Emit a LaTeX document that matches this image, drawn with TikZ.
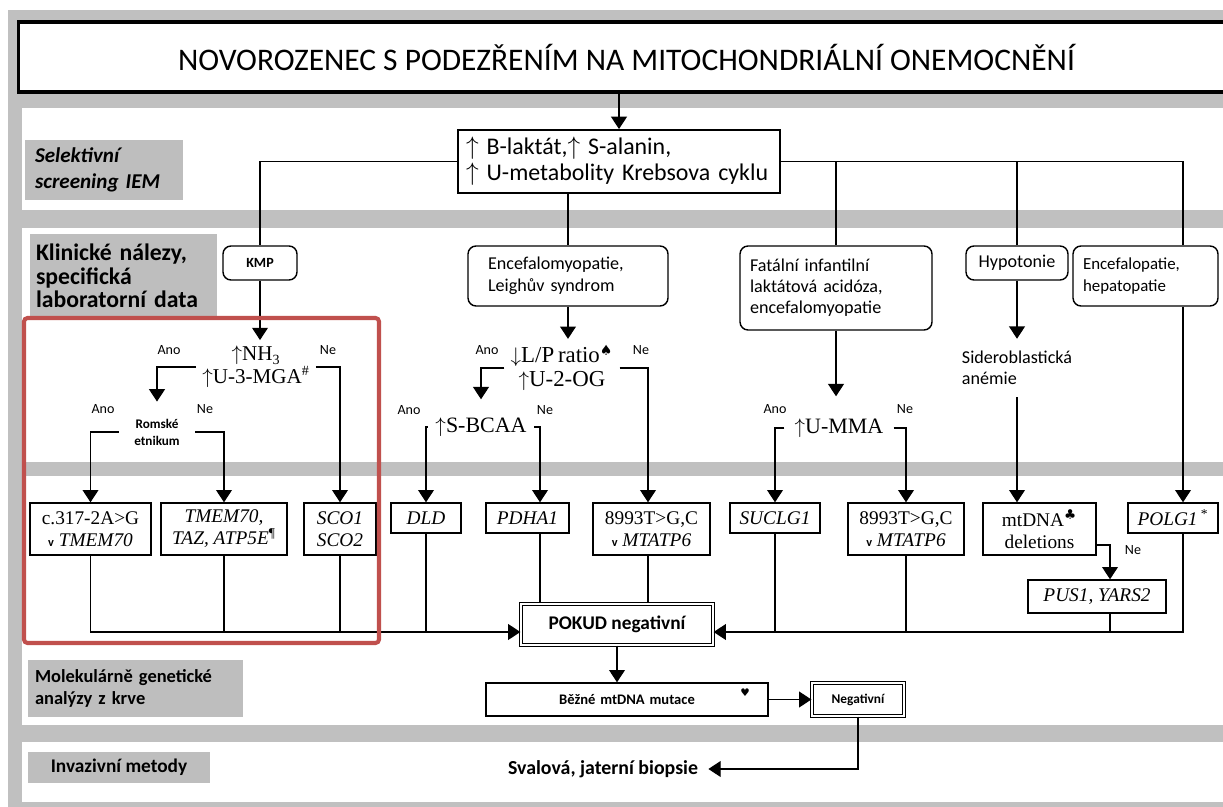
\documentclass[tikz,border=0pt]{standalone}
\usepackage{fontspec}
\setmainfont{Carlito}
\newfontfamily\genefont{Liberation Serif}
\newfontfamily\symfont{DejaVu Sans}
\usetikzlibrary{arrows.meta}

\begin{document}
\begin{tikzpicture}[x=0.02cm, y=-0.02cm,
    conn/.style={line width=0.7pt},
    arr/.style={conn, -{Triangle[width=9pt, length=7pt]}},
    rowlabel/.style={fill=labelGrey, font=\bfseries, align=left, inner xsep=0.2cm},
    roundbox/.style={draw, line width=0.8pt, rounded corners=0.16cm, align=left, font=\fontsize{10.3}{12.5}\selectfont},
    genebox/.style={draw, line width=0.8pt, align=center, inner sep=1pt, font=\genefont\fontsize{11}{12.5}\selectfont},
    dblbox/.style={draw, double, line width=0.7pt, double distance=1.2pt, font=\bfseries},
    testtext/.style={align=center, font=\genefont\fontsize{12.5}{13}\selectfont},
    yesno/.style={inner sep=1pt, font=\fontsize{8}{9}\selectfont}]

    % Define colours
    \definecolor{bandGrey}{HTML}{C0C0C0}
    \definecolor{labelGrey}{HTML}{BEBEBE}
    \definecolor{redFrame}{HTML}{C0504D}

    \useasboundingbox (0,0) rectangle (1223,807);

    % Draw background bands
    \fill[white] (0,0) rectangle (1223,807);
    \fill[bandGrey] (8,10) rectangle (1223,807);
    \fill[white] (22,108) rectangle (1223,210);
    \fill[white] (22,228) rectangle (1223,462);
    \fill[white] (22,476) rectangle (1223,725);
    \fill[white] (22,742) rectangle (1223,802);

    % Title
    \node[draw, fill=white, line width=1.8pt, minimum width=24.34cm, minimum height=1.4cm,
          font=\fontsize{17.9}{20}\selectfont] (title) at (626.5,57)
          {NOVOROZENEC S PODEZŘENÍM NA MITOCHONDRIÁLNÍ ONEMOCNĚNÍ};

    % Row labels
    \node[rowlabel, minimum width=3.16cm, minimum height=1.2cm, text width=2.76cm,
          font=\bfseries\itshape\fontsize{12}{15}\selectfont] (sel) at (104,170)
          {Selektivní\\screening IEM};
    \node[rowlabel, minimum width=3.74cm, minimum height=1.68cm, text width=3.5cm, inner xsep=0.12cm,
          font=\bfseries\fontsize{13.5}{13.5}\selectfont] (kli) at (123.5,276)
          {Klinické nálezy,\\specifická\\laboratorní data};
    \node[rowlabel, minimum width=4.3cm, minimum height=1.14cm, text width=4.02cm, inner xsep=0.14cm,
          font=\bfseries\fontsize{10.5}{13}\selectfont] (mol) at (135.5,688.5)
          {Molekulárně genetické\\analýzy z krve};
    \node[rowlabel, minimum width=3.64cm, minimum height=0.62cm, align=center,
          font=\bfseries\fontsize{11}{12}\selectfont] (inv) at (119,767.5)
          {Invazivní metody};

    % Screening box
    \node[draw, line width=1.1pt, minimum height=1.26cm, text width=6.12cm, inner xsep=0.16cm,
          align=left, font=\fontsize{13.6}{15}\selectfont] (main) at (619,161.5)
          {$\uparrow$ B-laktát,$\uparrow$ S-alanin,\\$\uparrow$ U-metabolity Krebsova cyklu};

    % Clinical findings
    \node[roundbox, minimum width=1.48cm, minimum height=0.68cm, align=center,
          font=\bfseries\fontsize{8}{9}\selectfont] (kmp) at (260,263) {KMP};
    \node[roundbox, minimum height=1.2cm, text width=3.2cm, inner xsep=0.4cm] (enc) at (568,276)
          {Encefalomyopatie,\\Leighův syndrom};
    \node[roundbox, minimum height=1.68cm, text width=3.44cm, inner xsep=0.2cm,
          font=\fontsize{10.3}{12}\selectfont] (fat) at (836,288)
          {Fatální infantilní\\laktátová acidóza,\\encefalomyopatie};
    \node[roundbox, minimum width=2.04cm, minimum height=0.68cm, align=center] (hyp) at (1017,263) {Hypotonie};
    \node[roundbox, minimum height=1.2cm, text width=2.5cm, inner xsep=0.2cm,
          font=\fontsize{9.6}{12}\selectfont] (encp) at (1145.5,276)
          {Encefalopatie,\\hepatopatie};

    % Laboratory tests
    \node[testtext, font=\genefont\fontsize{12}{11}\selectfont] (nh3) at (256,367)
          {$\uparrow$NH\textsubscript{3}\\$\uparrow$U-3-MGA\textsuperscript{\#}};
    \node[align=center, inner xsep=0.3cm, inner ysep=0.34cm,
          font=\bfseries\fontsize{7.5}{9.6}\selectfont] (rom) at (157,432)
          {Romské\\etnikum};
    \node[testtext, font=\genefont\fontsize{13}{13.6}\selectfont] (lp) at (562,368)
          {$\downarrow$L/P\,ratio\textsuperscript{\symfont\fontsize{8}{8}\selectfont ♠}\\$\uparrow$U-2-OG};
    \node[testtext, inner xsep=0.15cm, inner ysep=0.36cm] (bcaa) at (481,427) {$\uparrow$S-BCAA};
    \node[testtext, inner xsep=0.2cm, inner ysep=0.44cm] (umma) at (839,428) {$\uparrow$U-MMA};
    \node[align=left, inner ysep=0.24cm, font=\fontsize{10.3}{12}\selectfont] (sid) at (1017,368)
          {Sideroblastická\\anémie};

    % Yes / no labels
    \node[yesno] (yn1) at (169,350) {Ano};
    \node[yesno] (yn2) at (328,350) {Ne};
    \node[yesno] (yn3) at (103,409) {Ano};
    \node[yesno] (yn4) at (205,409) {Ne};
    \node[yesno] (yn5) at (487,350) {Ano};
    \node[yesno] (yn6) at (641,350) {Ne};
    \node[yesno] (yn7) at (409,410) {Ano};
    \node[yesno] (yn8) at (545,410) {Ne};
    \node[yesno] (yn9) at (775,409) {Ano};
    \node[yesno] (yn10) at (905,409) {Ne};
    \node[yesno] (yn11) at (1133,550) {Ne};

    % Gene boxes
    \node[genebox, minimum width=2.42cm, minimum height=1.04cm] (c317) at (90.5,529)
          {c.317-2A>G\\{\rmfamily\bfseries\fontsize{7}{7}\selectfont v} \textit{TMEM70}};
    \node[genebox, minimum width=2.52cm, minimum height=1.04cm] (tm) at (224,529)
          {\textit{TMEM70,}\\\textit{TAZ, ATP5E}\textsuperscript{¶}};
    \node[genebox, minimum width=1.44cm, minimum height=1.04cm] (sco) at (340,529)
          {\textit{SCO1}\\\textit{SCO2}};
    \node[genebox, minimum width=1.4cm, minimum height=0.6cm] (dld) at (426,518) {\textit{DLD}};
    \node[genebox, minimum width=1.66cm, minimum height=0.6cm] (pdh) at (527.5,518) {\textit{PDHA1}};
    \node[genebox, minimum width=2.34cm, minimum height=1.04cm] (mt1) at (651.5,529)
          {8993T>G,C\\{\rmfamily\bfseries\fontsize{7}{7}\selectfont v} \textit{MTATP6}};
    \node[genebox, minimum width=1.8cm, minimum height=0.6cm] (suc) at (775,518) {\textit{SUCLG1}};
    \node[genebox, minimum width=2.32cm, minimum height=1.04cm] (mt2) at (906,529)
          {8993T>G,C\\{\rmfamily\bfseries\fontsize{7}{7}\selectfont v} \textit{MTATP6}};
    \node[genebox, minimum width=2.26cm, minimum height=1.04cm] (mtdna) at (1039.5,529)
          {mtDNA\textsuperscript{\symfont ♣}\\deletions};
    \node[genebox, minimum width=1.8cm, minimum height=0.6cm] (polg) at (1173,518)
          {\textit{POLG1}\,\textsuperscript{*}};
    \node[genebox, minimum width=2.76cm, minimum height=0.66cm] (pus) at (1097,596.5)
          {\textit{PUS1, YARS2}};

    % Molecular genetics and biopsy
    \node[dblbox, minimum width=3.84cm, minimum height=0.82cm, font=\bfseries\fontsize{11}{12}\selectfont]
          (pok) at (617,624.5) {POKUD negativní};
    \node[draw, line width=0.8pt, minimum height=0.66cm, text width=5.4cm, align=center,
          font=\bfseries\fontsize{8.3}{10}\selectfont] (bez) at (627,699.5)
          {Běžné mtDNA mutace\hspace*{0.64cm}};
    \node[inner sep=0pt, font=\symfont\fontsize{6}{6}\selectfont] (heart) at (745,693) {♥};
    \node[dblbox, minimum width=1.84cm, minimum height=0.66cm, font=\bfseries\fontsize{7.6}{8}\selectfont]
          (neg) at (858,699.5) {Negativní};
    \node[inner xsep=0.2cm, font=\bfseries\fontsize{11.3}{12}\selectfont] (svl) at (603,769)
          {Svalová, jaterní biopsie};

    % Column positions
    \coordinate (xPdh) at (540,0);
    \coordinate (xMt1) at (648,0);
    \coordinate (xPolg) at (1183,0);
    \coordinate (xPus) at (1110,0);
    \coordinate (yPus) at (0,545);
    \coordinate (yBot) at (0,632);

    % Title to screening
    \draw[arr] (main.north |- title.south) -- (main.north);

    % Screening to clinical findings
    \draw[conn] (main.west) -| (kmp.north);
    \draw[conn] (main.south -| enc.north) -- (enc.north);
    \draw[conn] (main.east) -| (xPolg |- encp.north);
    \draw[conn] (fat.north |- main.east) -- (fat.north);
    \draw[conn] (hyp.north |- main.east) -- (hyp.north);

    % KMP branch
    \draw[arr] (kmp.south) -- (kmp.south |- nh3.north);
    \draw[arr] (nh3.west) -| (rom.north);
    \draw[arr] (nh3.east) -| (sco.north);
    \draw[arr] (rom.west) -| (c317.north);
    \draw[arr] (rom.east) -| (tm.north);

    % Encefalomyopatie branch
    \draw[arr] (enc.south) -- (enc.south |- lp.north);
    \draw[arr] (lp.west) -| (bcaa.north);
    \draw[arr] (lp.east) -| (xMt1 |- mt1.north);
    \draw[arr] (bcaa.west) -| (dld.north);
    \draw[arr] (bcaa.east) -| (xPdh |- pdh.north);

    % Lactic acidosis branch
    \draw[arr] (fat.south) -- (fat.south |- umma.north);
    \draw[arr] (umma.west) -| (suc.north);
    \draw[arr] (umma.east) -| (mt2.north);

    % Hypotonie branch
    \draw[arr] (hyp.south) -- (hyp.south |- sid.north);
    \draw[arr] (hyp.south |- sid.south) -- (hyp.south |- mtdna.north);
    \draw[arr] (mtdna.east |- yPus) -| (xPus |- pus.north);

    % Encefalopatie branch
    \draw[arr] (xPolg |- encp.south) -- (xPolg |- polg.north);

    % Collect the negative results
    \draw[arr] (c317.south) |- (pok.west |- yBot);
    \draw[conn] (tm.south) -- (tm.south |- yBot);
    \draw[conn] (sco.south) -- (sco.south |- yBot);
    \draw[conn] (dld.south) -- (dld.south |- yBot);
    \draw[conn] (xPdh |- pdh.south) -- (xPdh |- pok.north);
    \draw[conn] (xMt1 |- mt1.south) -- (xMt1 |- pok.north);
    \draw[arr] (xPolg |- polg.south) |- (pok.east |- yBot);
    \draw[conn] (suc.south) -- (suc.south |- yBot);
    \draw[conn] (mt2.south) -- (mt2.south |- yBot);
    \draw[conn] (xPus |- pus.south) -- (xPus |- yBot);

    % Molecular genetics to biopsy
    \draw[arr] (pok.south) -- (pok.south |- bez.north);
    \draw[arr] (bez.east) -- (neg.west);
    \draw[arr] (neg.south) |- (svl.east);

    % Highlight frame
    \draw[redFrame, line width=2.3pt, rounded corners=2pt] (24,318) rectangle (379,643);

\end{tikzpicture}
\end{document}
